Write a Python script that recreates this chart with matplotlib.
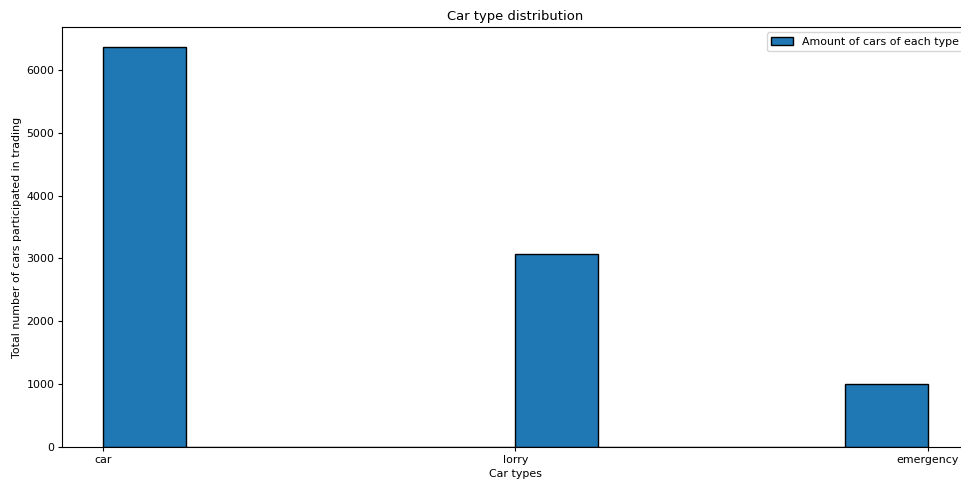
import matplotlib
matplotlib.use('Agg')
import matplotlib.pyplot as plt

car_types = ['car', 'lorry', 'emergency']
car_counts = [6366, 3072, 1005]

# the reference looks like a downscaled default figure, so shrink fonts and pads together
s = 0.79
plt.rcParams.update({
    'font.size': 10 * s,
    'axes.titlesize': 12 * s,
    'axes.titlepad': 6 * s,
    'axes.labelpad': 4 * s,
    'xtick.major.size': 3.5 * s,
    'ytick.major.size': 3.5 * s,
    'xtick.major.pad': 3.5 * s,
    'ytick.major.pad': 3.5 * s,
    'xtick.labelsize': 10 * s,
    'ytick.labelsize': 10 * s,
    'legend.fontsize': 10 * s,
})

fig = plt.figure(figsize=(9.62, 4.84), dpi=100)
ax = fig.add_axes([62 / 962, 37 / 484, 907 / 962, 420 / 484])

ax.hist(car_types, weights=car_counts, bins=10, color='#1f77b4', edgecolor='black',
        label='Amount of cars of each type')

ax.set_title('Car type distribution')
ax.set_xlabel('Car types')
ax.set_ylabel('Total number of cars participated in trading')
ax.legend(loc='upper right')

fig.savefig('out.png', dpi=100)
